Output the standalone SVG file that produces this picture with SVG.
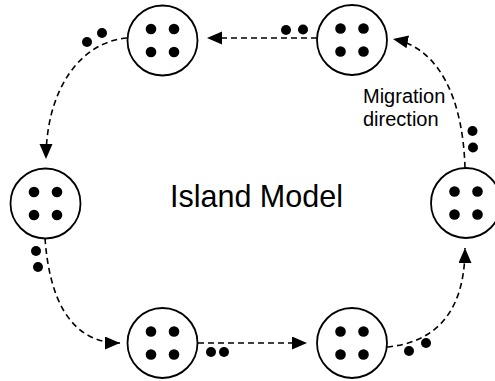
<svg xmlns="http://www.w3.org/2000/svg" width="495" height="381" viewBox="0 0 495 381">
  <style>
    .island { fill: #ffffff; stroke: #000000; stroke-width: 1.8; }
    .ind { fill: #000000; }
    .link { fill: none; stroke: #000000; stroke-width: 1.6; stroke-dasharray: 6 4; }
    .label { font-family: "Liberation Sans", Arial, sans-serif; fill: #000000; }
  </style>
  <defs>
    <marker id="arrow" markerUnits="userSpaceOnUse" markerWidth="16" markerHeight="14" refX="15" refY="6.5" orient="auto">
      <path d="M0,0 L15,6.5 L0,13 Z" fill="#000000"/>
    </marker>
    <!-- one island: a ring holding four individuals -->
    <g id="island-shape">
      <circle class="island" cx="0" cy="0" r="35"/>
      <circle class="ind" cx="-11.5" cy="-11.5" r="5.3"/>
      <circle class="ind" cx="11.5" cy="-11.5" r="5.3"/>
      <circle class="ind" cx="-11.5" cy="11.5" r="5.3"/>
      <circle class="ind" cx="11.5" cy="11.5" r="5.3"/>
    </g>
  </defs>

  <rect width="495" height="381" fill="#ffffff"/>

  <!-- migration links around the ring -->
  <g id="connectors">
    <path class="link" d="M317,38 L207,38" marker-end="url(#arrow)"/>
    <path class="link" d="M127,38 C80,42 46,90 46,159" marker-end="url(#arrow)"/>
    <path class="link" d="M45,238 C49,295 68,343 120,343" marker-end="url(#arrow)"/>
    <path class="link" d="M198,343 L307,343" marker-end="url(#arrow)"/>
    <path class="link" d="M387,347 C430,343 465,318 465,248" marker-end="url(#arrow)"/>
    <path class="link" d="M465,168 C463,100 440,48 393,39" marker-end="url(#arrow)"/>
  </g>

  <!-- migrating individuals travelling along the links -->
  <g id="migrants">
    <circle class="ind" cx="286" cy="30" r="5"/>
    <circle class="ind" cx="303" cy="29.5" r="5"/>
    <circle class="ind" cx="87" cy="42" r="5"/>
    <circle class="ind" cx="102" cy="33" r="5"/>
    <circle class="ind" cx="36" cy="251" r="5"/>
    <circle class="ind" cx="38" cy="267" r="5"/>
    <circle class="ind" cx="211" cy="352" r="5"/>
    <circle class="ind" cx="224" cy="352" r="5"/>
    <circle class="ind" cx="409" cy="351" r="5"/>
    <circle class="ind" cx="426" cy="343" r="5"/>
    <circle class="ind" cx="472.5" cy="131" r="5"/>
    <circle class="ind" cx="473" cy="147.5" r="5"/>
  </g>

  <g id="island-top-left"><use href="#island-shape" x="162.5" y="40.5"/></g>
  <g id="island-top-right"><use href="#island-shape" x="352" y="40"/></g>
  <g id="island-left"><use href="#island-shape" x="45.5" y="203.5"/></g>
  <g id="island-right"><use href="#island-shape" x="466" y="203"/></g>
  <g id="island-bottom-left"><use href="#island-shape" x="162.5" y="343"/></g>
  <g id="island-bottom-right"><use href="#island-shape" x="352" y="343"/></g>

  <g id="title">
    <text class="label" x="170" y="207" font-size="30.5">Island Model</text>
  </g>
  <g id="migration-label">
    <text class="label" x="363" y="103" font-size="20">Migration</text>
    <text class="label" x="363" y="126" font-size="20">direction</text>
  </g>
</svg>
